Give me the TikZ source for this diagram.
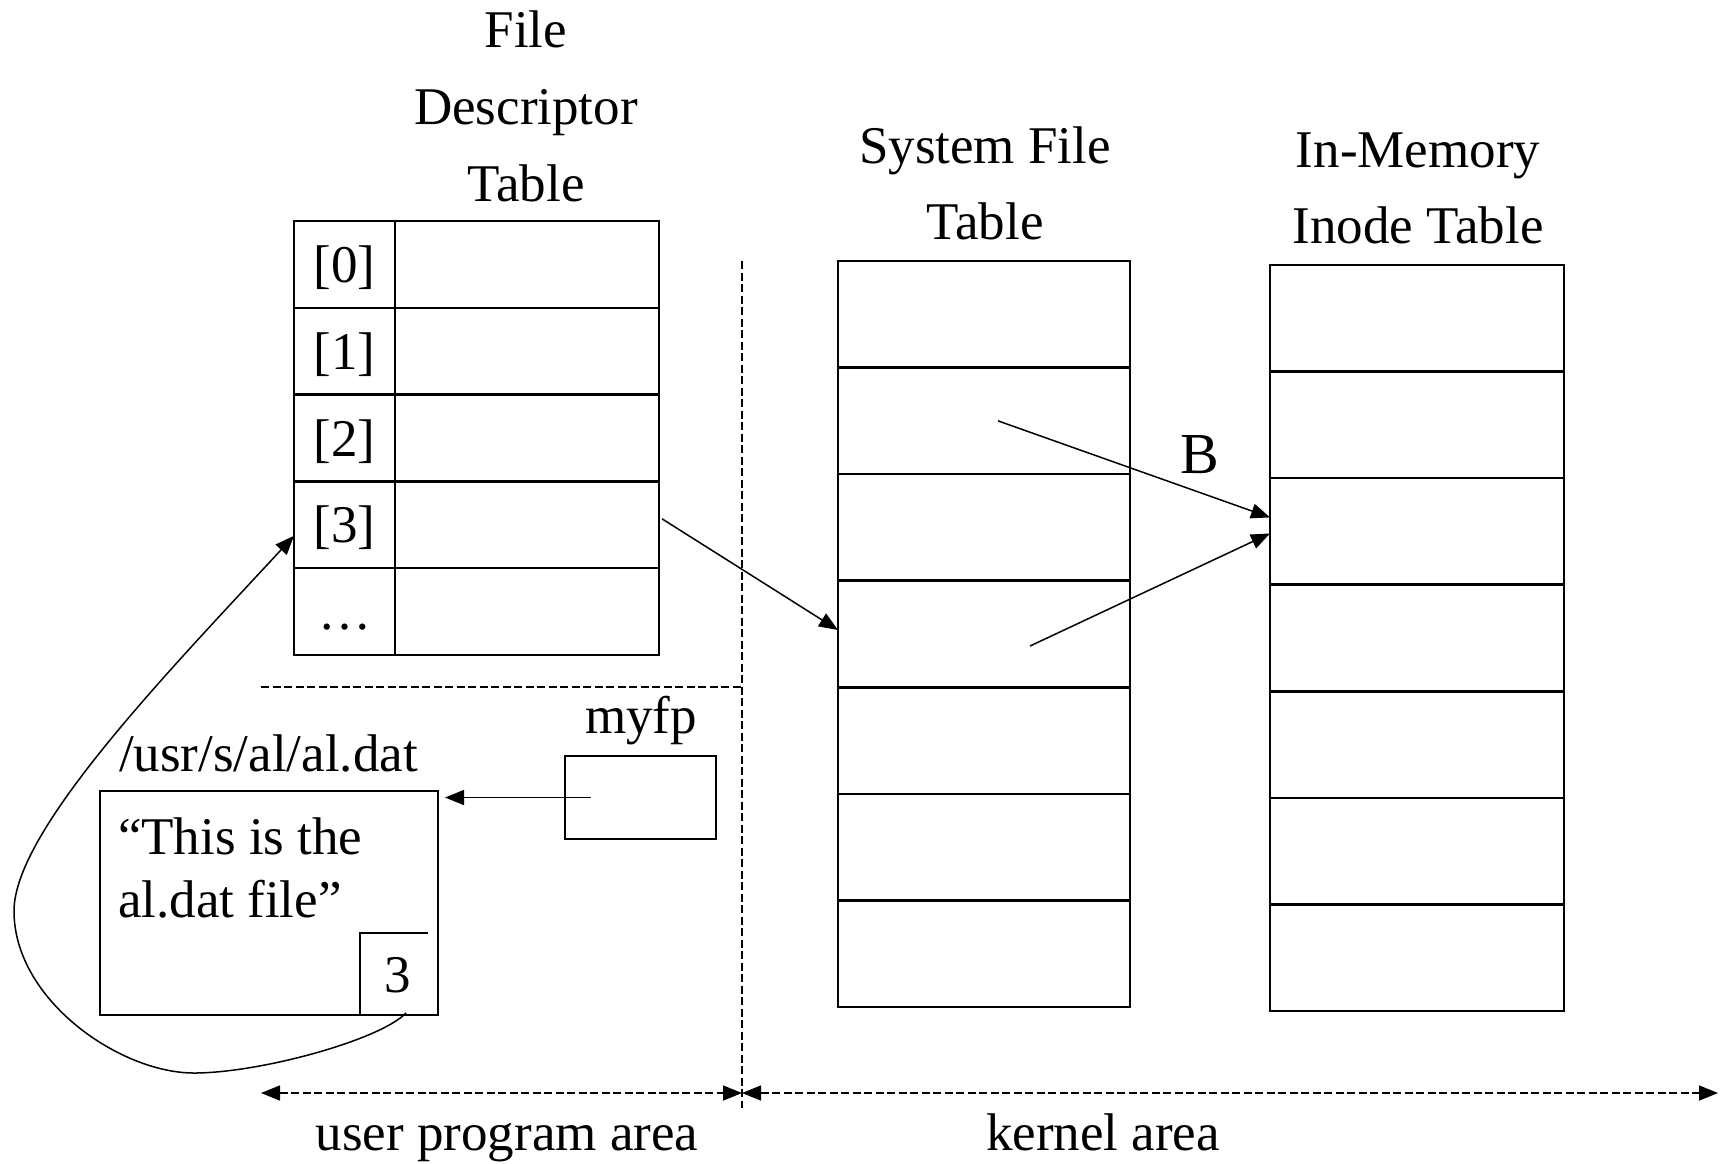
\documentclass[tikz,border=0pt]{standalone}
\usepackage{fontspec}
\setmainfont{Liberation Serif}
\usetikzlibrary{arrows.meta,calc}

\begin{document}
\begin{tikzpicture}[x=0.5pt,y=-0.5pt,
  every node/.style={font=\fontsize{26.5}{30}\selectfont, inner sep=0pt, outer sep=0pt},
  tbl/.style={draw, line width=1.25pt, rectangle, anchor=north west},
  idx/.style={tbl, minimum width=50.5pt, minimum height=43.4pt, text height=18pt, text depth=0pt},
  val/.style={tbl, minimum width=132pt, minimum height=43.4pt},
  sfc/.style={tbl, minimum width=146pt, minimum height=53.286pt},
  inc/.style={tbl, minimum width=147pt, minimum height=53.286pt},
  lbl/.style={anchor=base},
  arr/.style={line width=0.75pt, -{Triangle[length=9.5pt,width=7.5pt]}},
  dimline/.style={line width=0.75pt, dash pattern=on 4pt off 1.75pt,
                  {Triangle[length=9.5pt,width=7.5pt]}-{Triangle[length=9.5pt,width=7.5pt]}},
  sep/.style={line width=0.75pt, dash pattern=on 4pt off 1.75pt}]

\useasboundingbox (0,0) rectangle (1727,1163);

% ---- titles ----
\node[lbl] (fdtA) at (526,47)  {File};
\node[lbl] (fdtB) at (526,124) {Descriptor};
\node[lbl] (fdtC) at (526,201) {Table};
\node[lbl] (sftA) at (985,163) {System File};
\node[lbl] (sftB) at (985,239) {Table};
\node[lbl] (intA) at (1418,167) {In-Memory};
\node[lbl] (intB) at (1418,243) {Inode Table};

% ---- file descriptor table ----
\node[idx] (fdi0) at (294,221)   {[0]};
\node[idx] (fdi1) at (294,307.8) {[1]};
\node[idx] (fdi2) at (294,394.6) {[2]};
\node[idx] (fdi3) at (294,481.4) {[3]};
\node[idx] (fdi4) at (294,568.2) {\ldots};
\node[val] (fdv0) at (395,221)   {};
\node[val] (fdv1) at (395,307.8) {};
\node[val] (fdv2) at (395,394.6) {};
\node[val] (fdv3) at (395,481.4) {};
\node[val] (fdv4) at (395,568.2) {};

% ---- system file table ----
\foreach \k in {0,...,6}{
  \node[sfc] (sf\k) at (838,{261+106.571*\k}) {};
}

% ---- in-memory inode table ----
\foreach \k in {0,...,6}{
  \node[inc] (in\k) at (1270,{265+106.571*\k}) {};
}

% ---- user / kernel separators ----
\coordinate (vsTop) at (742,261);
\coordinate (vsBot) at (742,1108);
\coordinate (hsL) at (261,687);
\draw[sep] (vsTop) -- (vsBot);
\draw[sep] (hsL) -- (vsTop |- hsL);

% ---- open file and pointer ----
\node[lbl] (myfpl) at (641,733) {myfp};
\node[draw, line width=1.25pt, minimum width=75.5pt, minimum height=41.5pt] (myfpbox) at (640.5,797.5) {};

\node[anchor=base west] (path) at (119,771) {/usr/s/al/al.dat};
\node[draw, line width=1.25pt, minimum width=169pt, minimum height=112pt] (filebox) at (269,903) {};
\node[anchor=base west] (txtA) at (118,854) {“This is the};
\node[anchor=base west] (txtB) at (118,917) {al.dat file”};
\draw[line width=0.75pt] (360,1015) -- (360,933) -- (428,933);
\node[lbl] (num) at (398,992) {3};

\node[lbl, font=\fontsize{29}{32}\selectfont] (blbl) at (1200,473) {B};

% ---- connectors ----
\draw[arr] ([xshift=-25pt]myfpbox.center) -- ($(myfpbox.center -| filebox.east)+(7,0)$);
\draw[arr] ([xshift=1.5pt,yshift=3pt]fdv3.east) -- ([yshift=2pt]sf3.west);
\draw[arr] ([xshift=7pt]sf1.center) -- ([yshift=7pt]in2.west);
\draw[arr] ([xshift=23pt,yshift=-6pt]sf3.center) -- ([yshift=-1pt]in2.west);

\coordinate (cstart) at (406,1013);
\draw[arr] (cstart) .. controls (380,1040) and (260,1073) .. (194,1073)
  .. controls (120,1073) and (14,1000) .. (14,911)
  .. controls (14,830) and (170,670) .. ([yshift=-5.5pt]fdi3.west);

% ---- area extents ----
\coordinate (dimL) at (261,1093);
\coordinate (dimM) at (742,1093);
\coordinate (dimR) at (1718,1093);
\draw[dimline] (dimL) -- (dimM);
\draw[dimline] (dimM) -- (dimR);
\node[lbl] (ularea) at (507,1150) {user program area};
\node[lbl] (karea) at (1103,1150) {kernel area};

\end{tikzpicture}
\end{document}
